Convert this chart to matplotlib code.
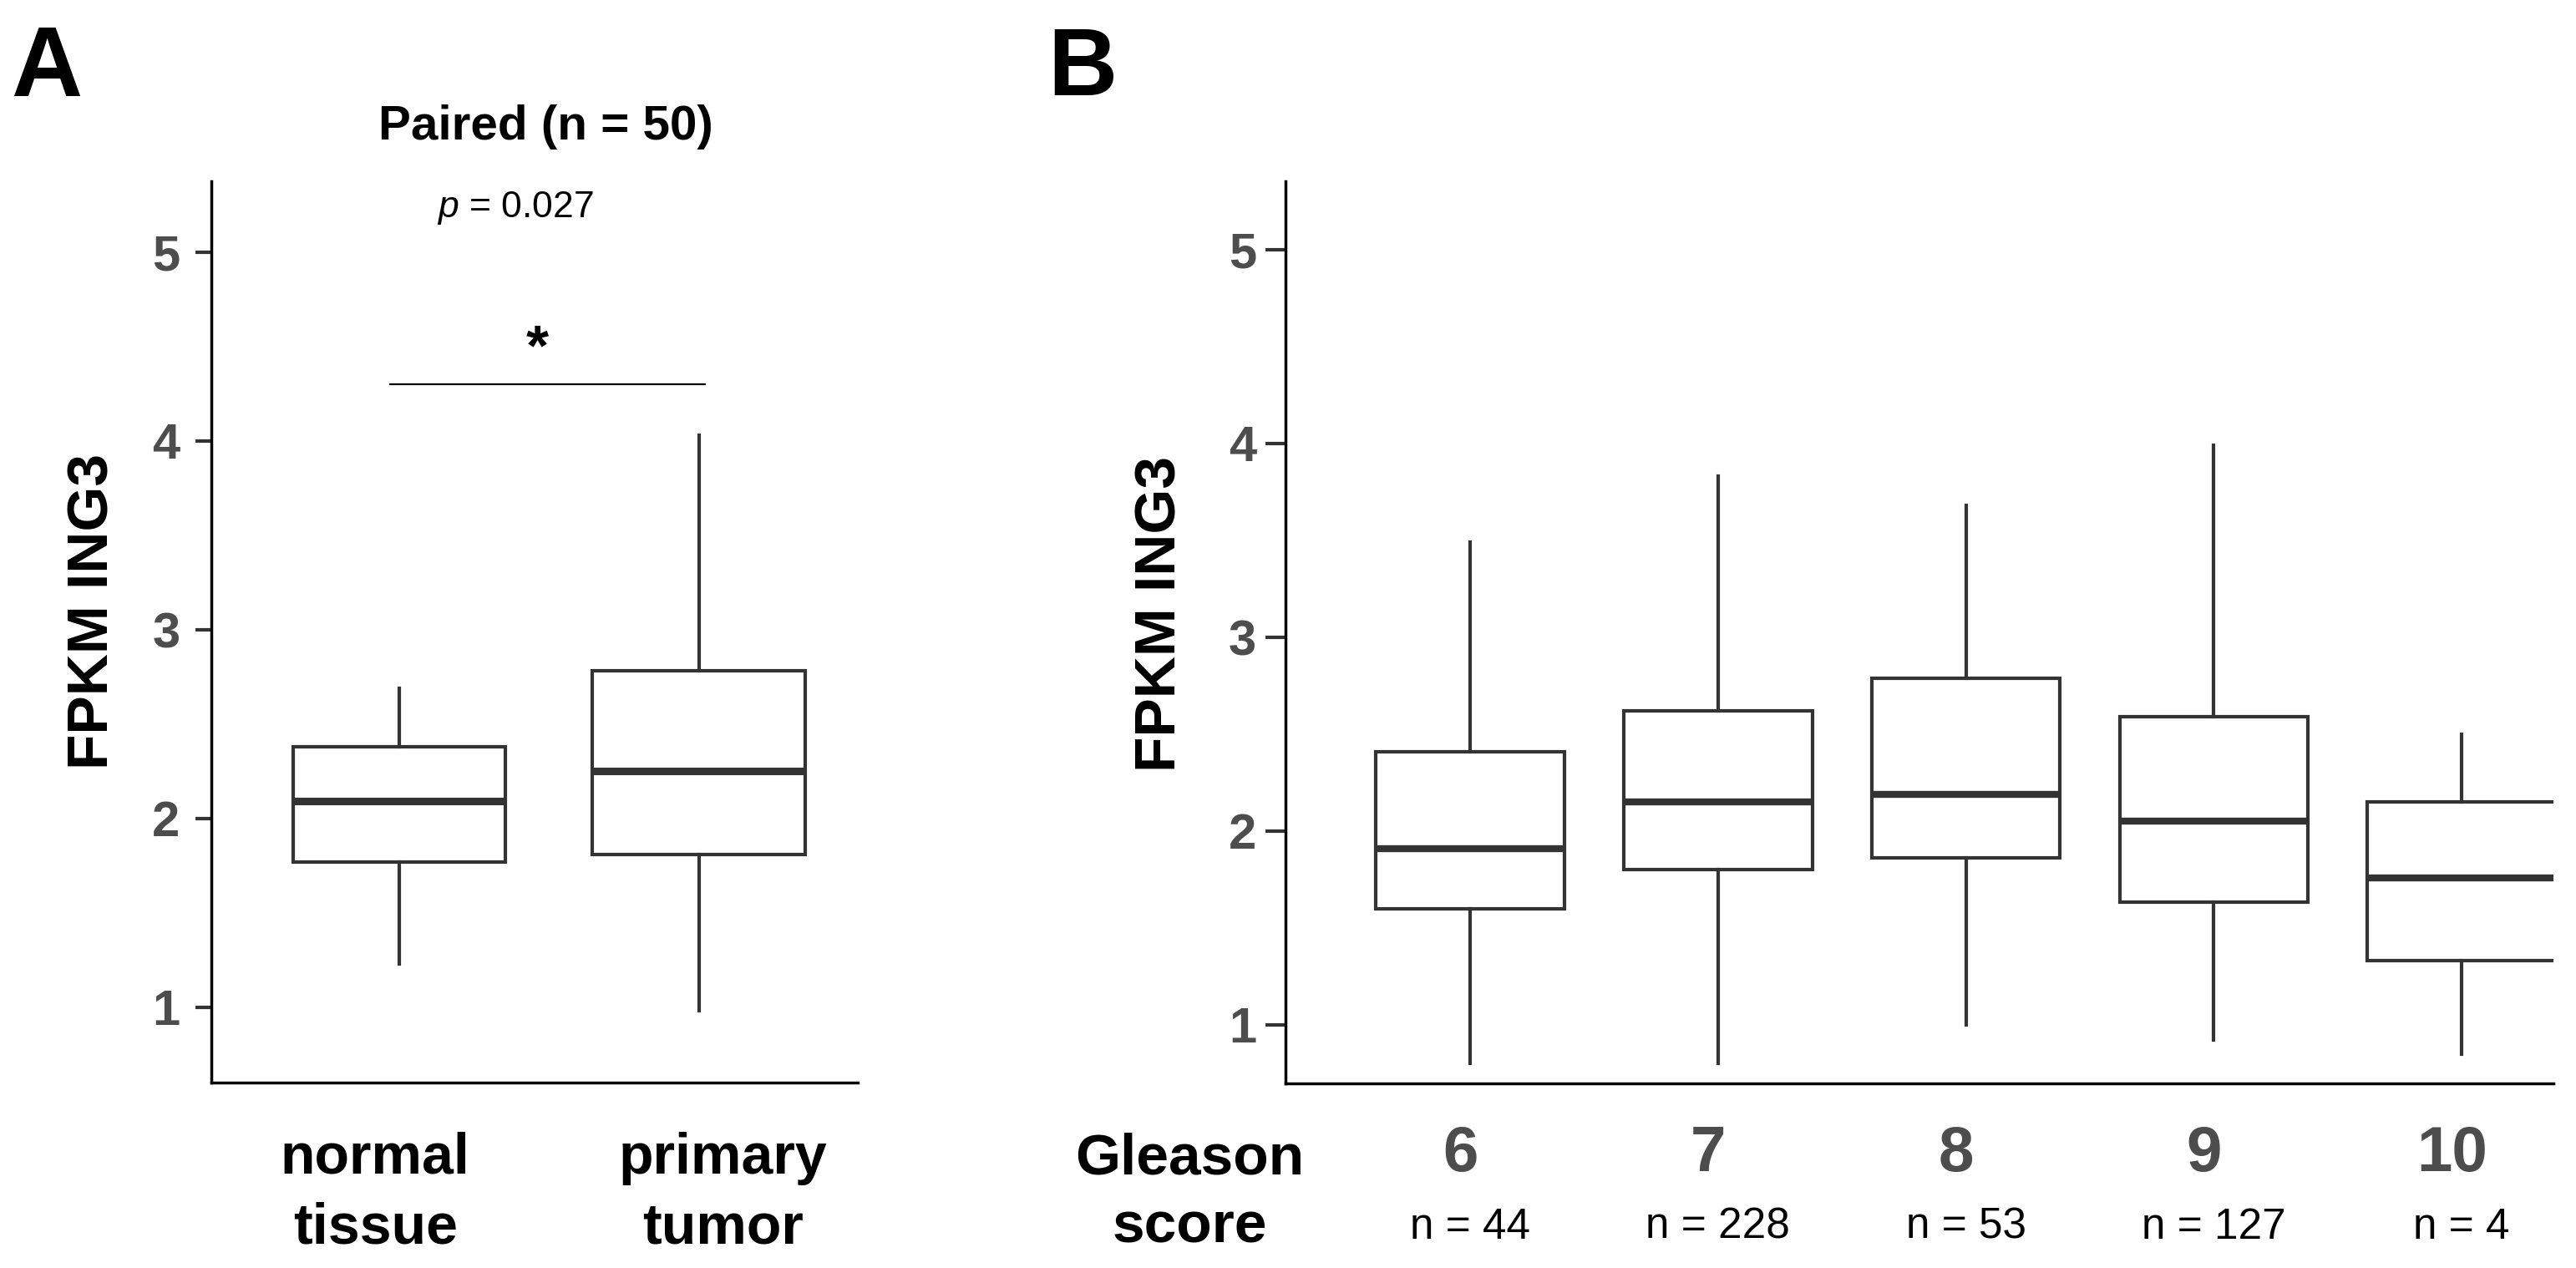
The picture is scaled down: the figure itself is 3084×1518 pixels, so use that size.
import matplotlib
matplotlib.use("Agg")
import matplotlib.pyplot as plt

# ---- data -----------------------------------------------------------------
A_groups = ["normal\ntissue", "primary\ntumor"]
A_whislo = [1.23, 0.98]
A_q1     = [1.77, 1.81]
A_med    = [2.09, 2.25]
A_q3     = [2.38, 2.78]
A_whishi = [2.69, 4.03]
A_title  = "Paired (n = 50)"
A_pval   = "0.027"

B_scores = ["6", "7", "8", "9", "10"]
B_n      = [44, 228, 53, 127, 4]
B_whislo = [0.80, 0.80, 1.00, 0.92, 0.85]
B_q1     = [1.60, 1.80, 1.86, 1.635, 1.33]
B_med    = [1.91, 2.15, 2.19, 2.05, 1.76]
B_q3     = [2.41, 2.62, 2.79, 2.59, 2.15]
B_whishi = [3.49, 3.83, 3.68, 3.99, 2.50]

YTICKS = [1, 2, 3, 4, 5]

# ---- style ----------------------------------------------------------------
plt.rcParams["font.family"] = ["Liberation Sans", "DejaVu Sans"]
plt.rcParams["mathtext.fontset"] = "custom"
plt.rcParams["mathtext.rm"] = "Liberation Sans"
plt.rcParams["mathtext.it"] = "Liberation Sans:italic"

BOXC  = "#333333"
TICKC = "#4d4d4d"
W, H = 3084, 1518

fig = plt.figure(figsize=(W / 100, H / 100), dpi=100)


def stats(lo, q1, med, q3, hi):
    return [dict(whislo=a, q1=b, med=c, q3=d, whishi=e)
            for a, b, c, d, e in zip(lo, q1, med, q3, hi)]


def style_axes(ax, ticklen, pad):
    for s in ["top", "right"]:
        ax.spines[s].set_visible(False)
    for s in ["left", "bottom"]:
        ax.spines[s].set_linewidth(2.5)
        ax.spines[s].set_color("black")
    ax.set_yticks(YTICKS)
    ax.set_yticklabels([str(t) for t in YTICKS], fontsize=43,
                       fontweight="bold", color=TICKC)
    ax.tick_params(axis="y", length=ticklen, width=3, color=BOXC, pad=pad)
    ax.set_xticks([])


def boxes(ax, st, pos, width, medlw):
    ax.bxp(st, positions=pos, widths=width, showcaps=False,
           showfliers=False, patch_artist=True,
           boxprops=dict(facecolor="white", edgecolor=BOXC, linewidth=3),
           whiskerprops=dict(color=BOXC, linewidth=3),
           medianprops=dict(color=BOXC, linewidth=medlw, solid_capstyle="butt"))


# ---- panel A --------------------------------------------------------------
axA = fig.add_axes([253 / W, 1 - 1296 / H, (1027 - 253) / W, (1296 - 217) / H])
posA = [1, 2]
boxes(axA, stats(A_whislo, A_q1, A_med, A_q3, A_whishi), posA, 0.71, 6.5)
axA.set_xlim(0.373, 2.53)
axA.set_ylim(0.60, 5.375)
style_axes(axA, 14, 13)

for x, lab, dx in zip(posA, A_groups, [-0.08, 0.08]):
    l1, l2 = lab.split("\n")
    axA.text(x + dx, -0.101, l1, transform=axA.get_xaxis_transform(),
             ha="center", va="baseline", fontsize=49, fontweight="bold")
    axA.text(x + dx, -0.178, l2, transform=axA.get_xaxis_transform(),
             ha="center", va="baseline", fontsize=49, fontweight="bold")

# significance bar
axA.plot([0.97, 2.02], [4.30, 4.30], color="black", lw=1.6)
axA.text(1.46, 4.34, "*", ha="center", va="bottom", fontsize=50,
         fontweight="bold")

fig.text(653 / W, 1 - 167 / H, A_title, ha="center", va="baseline",
         fontsize=42, fontweight="bold")
fig.text(617 / W, 1 - 260 / H, r"$\it{p}$ = " + A_pval, ha="center",
         va="baseline", fontsize=32)
fig.text(112 / W, 1 - 732 / H, "FPKM ING3", rotation=90, ha="center",
         va="center", fontsize=50, fontweight="bold")
fig.text(13 / W, 1 - 115 / H, "A", ha="left", va="baseline", fontsize=85,
         fontweight="bold")

# ---- panel B --------------------------------------------------------------
axB = fig.add_axes([1539 / W, 1 - 1297 / H, (3057 - 1539) / W, (1297 - 217) / H])
posB = list(range(1, len(B_scores) + 1))
boxes(axB, stats(B_whislo, B_q1, B_med, B_q3, B_whishi), posB, 0.76, 6)
axB.set_xlim(0.255, 5.37)
axB.set_ylim(0.698, 5.353)
style_axes(axB, 17, 8)

for x, s, n in zip(posB, B_scores, B_n):
    axB.text(x - 0.04, -0.097, s, transform=axB.get_xaxis_transform(),
             ha="center", va="baseline", fontsize=55, fontweight="bold",
             color=TICKC)
    axB.text(x, -0.172, f"n = {n}", transform=axB.get_xaxis_transform(),
             ha="center", va="baseline", fontsize=37)

fig.text(1424 / W, 1 - 1405 / H, "Gleason", ha="center", va="baseline",
         fontsize=50, fontweight="bold")
fig.text(1424 / W, 1 - 1488 / H, "score", ha="center", va="baseline",
         fontsize=50, fontweight="bold")
fig.text(1390 / W, 1 - 735 / H, "FPKM ING3", rotation=90, ha="center",
         va="center", fontsize=50, fontweight="bold")
fig.text(1254 / W, 1 - 114 / H, "B", ha="left", va="baseline", fontsize=83,
         fontweight="bold")

fig.savefig("out.png", dpi=100, facecolor="white")
